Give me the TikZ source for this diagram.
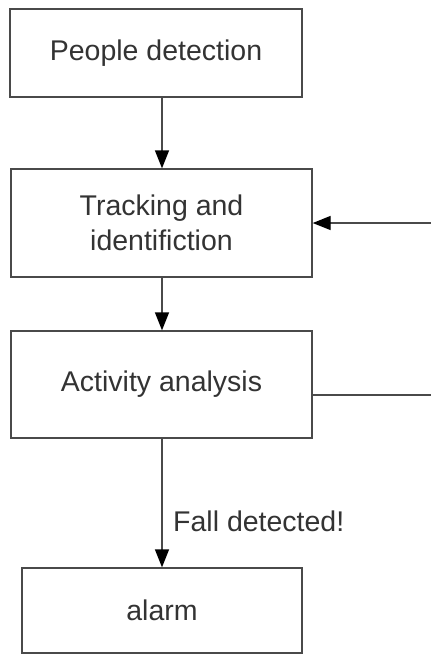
\documentclass[tikz,border=0pt]{standalone}
\usepackage{fontspec}
\setmainfont{Liberation Sans}
\usetikzlibrary{arrows.meta}
\definecolor{linec}{HTML}{4A4A4A}
\definecolor{textc}{HTML}{333333}
\begin{document}
\begin{tikzpicture}[x=1pt,y=-1pt,
  box/.style={draw=linec,line width=1.4pt,rectangle,inner sep=0pt,align=center,
    text=textc,font=\fontsize{28.5}{35}\selectfont},
  arr/.style={draw=linec,line width=1.4pt,-{Triangle[width=14pt,length=18pt,fill=black,color=black]}},
  plain/.style={draw=linec,line width=1.4pt},
  lbl/.style={text=textc,font=\fontsize{28.5}{35}\selectfont,inner sep=0pt}]
\useasboundingbox (0,0) rectangle (431,654);
\node[box,minimum width=292pt,minimum height=88pt] (people) at (156,53) {People detection};
\node[box,minimum width=301pt,minimum height=108pt] (track) at (161.5,223) {Tracking and\\identifiction};
\node[box,minimum width=301pt,minimum height=107pt] (act) at (161.5,384.5) {Activity analysis};
\node[box,minimum width=280pt,minimum height=85pt] (alarm) at (162,610.5) {alarm};
\coordinate (col) at (162,0);
\coordinate (fbin) at (431,223);
\coordinate (fbout) at (431,395);
\draw[arr] (people.south -| col) -- (track.north -| col);
\draw[arr] (track.south -| col) -- (act.north -| col);
\draw[arr] (act.south -| col) -- (alarm.north -| col);
\draw[plain] (act.east |- fbout) -- (fbout);
\draw[arr] (fbin) -- (track.east |- fbin);
\node[lbl,anchor=west] (fall) at (173,521) {Fall detected!};
\end{tikzpicture}
\end{document}
